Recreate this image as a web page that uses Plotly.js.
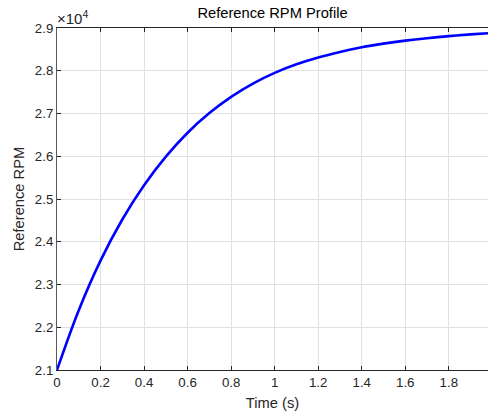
<!DOCTYPE html>
<html>
<head>
<meta charset="utf-8">
<script src="https://cdn.plot.ly/plotly-3.0.1.min.js"></script>
<style>html,body{margin:0;padding:0;background:#fff;}#chart{width:488px;height:412px;}</style>
</head>
<body>
<div id="chart"></div>
<script>
// Time (s)
const timeS = [0, 0.1, 0.2, 0.3, 0.4, 0.5, 0.6, 0.7, 0.8, 0.9, 1.0, 1.1, 1.2, 1.3, 1.4, 1.5, 1.6, 1.7, 1.8, 1.9, 1.98];
// Reference RPM
const rpm = [21000, 22400, 23560, 24520, 25320, 25990, 26550, 27010, 27390, 27700, 27950, 28150, 28310, 28440, 28550, 28635, 28705, 28762, 28810, 28850, 28878];
const yTickVals = [21000, 22000, 23000, 24000, 25000, 26000, 27000, 28000, 29000];
const yTickText = ['2.1', '2.2', '2.3', '2.4', '2.5', '2.6', '2.7', '2.8', '2.9'];
const xTickVals = [0, 0.2, 0.4, 0.6, 0.8, 1, 1.2, 1.4, 1.6, 1.8];
const xTickText = ['0', '0.2', '0.4', '0.6', '0.8', '1', '1.2', '1.4', '1.6', '1.8'];

const fam = 'Liberation Sans, Arial, sans-serif';
const tickFont = {family: fam, size: 13.3, color: '#262626'};
const labelFont = {family: fam, size: 14.7, color: '#262626'};

Plotly.newPlot('chart', [{
  x: timeS, y: rpm, type: 'scatter', mode: 'lines',
  line: {color: '#0000ff', width: 2.6, shape: 'spline', smoothing: 1},
  hoverinfo: 'none'
}], {
  width: 488, height: 412,
  margin: {l: 57, r: 0, t: 28, b: 42},
  paper_bgcolor: '#ffffff', plot_bgcolor: '#ffffff',
  font: tickFont,
  showlegend: false,
  title: {text: 'Reference RPM Profile', font: {family: fam, size: 14.7, color: '#000000'},
          x: 0.5, xref: 'paper', xanchor: 'center', y: 1 - 13/412, yanchor: 'middle'},
  xaxis: {
    range: [0, 1.98], tickvals: xTickVals, ticktext: xTickText,
    ticks: 'inside', ticklen: 4, tickcolor: '#262626', tickwidth: 1,
    showline: true, linecolor: '#262626', linewidth: 1, mirror: 'ticks',
    showgrid: true, gridcolor: '#e0e0e0', gridwidth: 1, zeroline: false,
    tickfont: tickFont,
    title: {text: 'Time (s)', font: labelFont, standoff: 8}
  },
  yaxis: {
    range: [21000, 29000], tickvals: yTickVals, ticktext: yTickText,
    ticks: 'inside', ticklen: 4, tickcolor: '#262626', tickwidth: 1,
    showline: true, linecolor: '#5a5a5a', linewidth: 1,
    showgrid: true, gridcolor: '#e0e0e0', gridwidth: 1, zeroline: false,
    tickfont: tickFont,
    title: {text: 'Reference RPM', font: labelFont, standoff: 6}
  },
  annotations: [{
    text: '×10<sup>4</sup>', xref: 'paper', yref: 'paper', x: 0, y: 1,
    xanchor: 'left', yanchor: 'bottom', showarrow: false, yshift: -1, xshift: -2,
    font: {family: fam, size: 15, color: '#262626'}
  }]
}, {staticPlot: true});
</script>
</body>
</html>
